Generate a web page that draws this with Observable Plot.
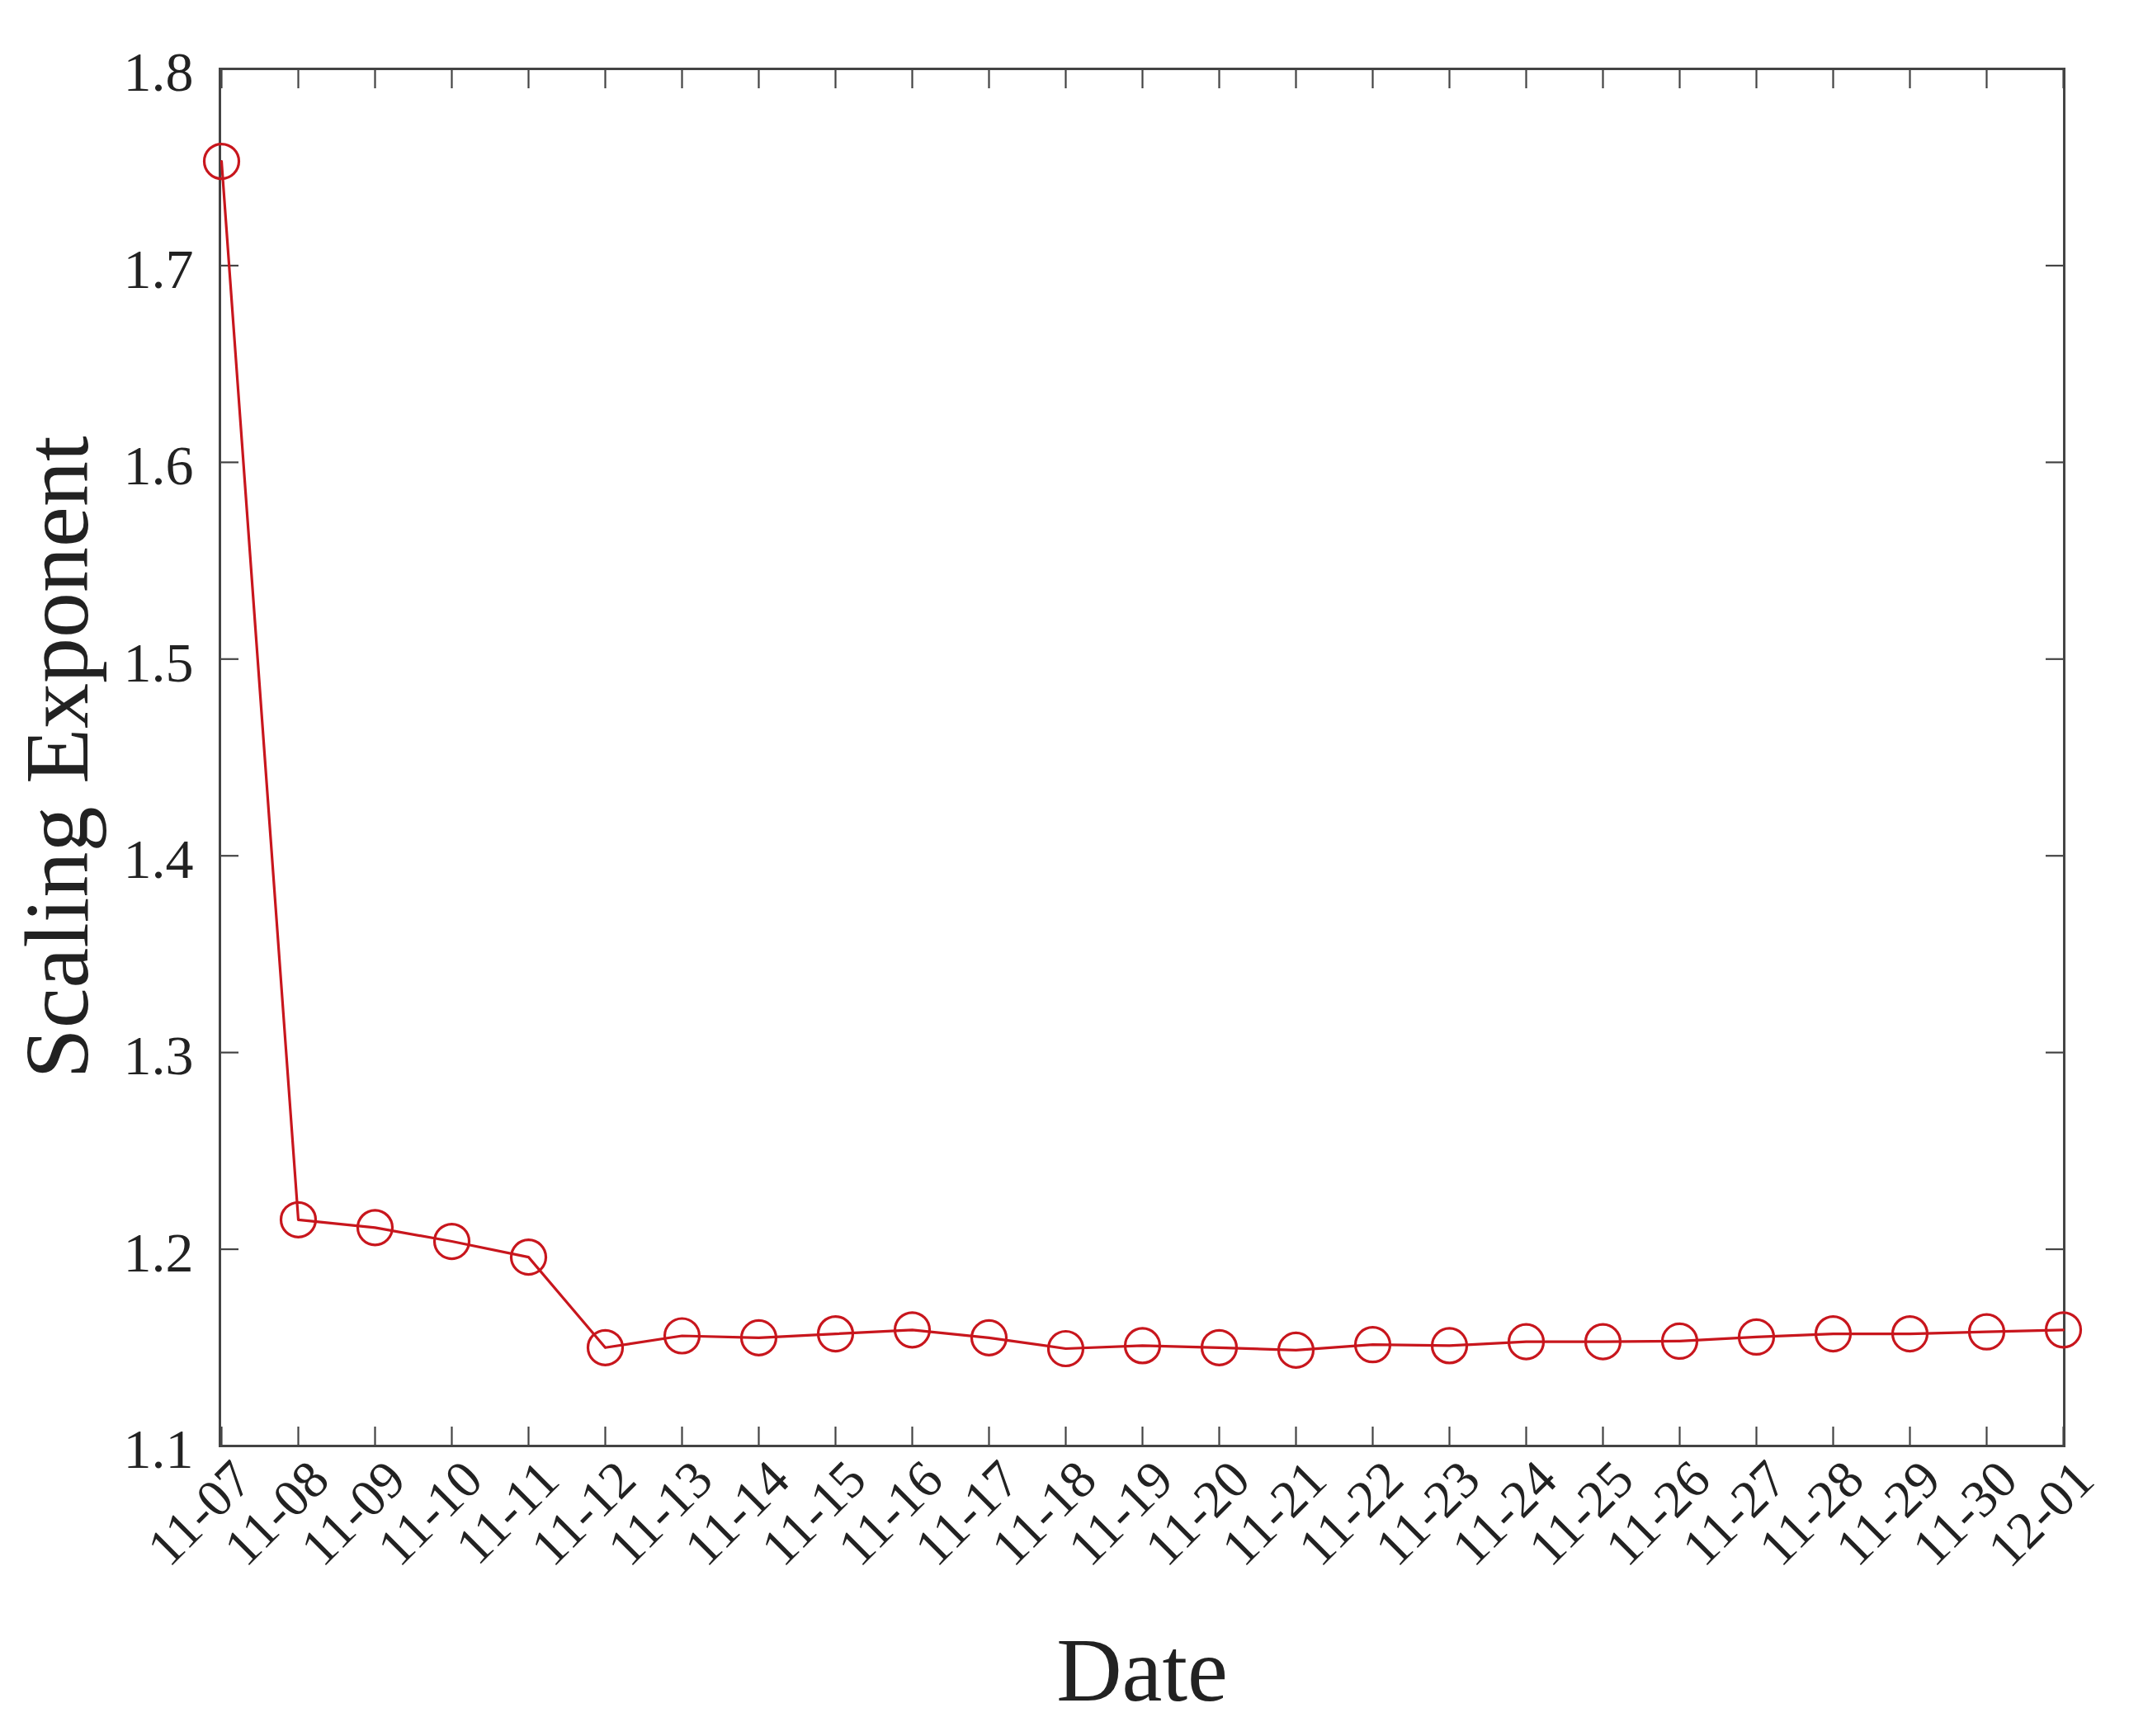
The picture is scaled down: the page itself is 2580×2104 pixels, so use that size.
<!DOCTYPE html>
<html>
<head>
<meta charset="utf-8">
<script src="https://cdn.jsdelivr.net/npm/d3@7"></script>
<script src="https://cdn.jsdelivr.net/npm/@observablehq/plot@0.6"></script>
<style>
  html, body { margin: 0; padding: 0; background: #ffffff; }
  #chart svg { display: block; }
</style>
</head>
<body>
<div id="chart"></div>
<script>
const dates = ["11-07","11-08","11-09","11-10","11-11","11-12","11-13","11-14","11-15","11-16","11-17","11-18","11-19","11-20","11-21","11-22","11-23","11-24","11-25","11-26","11-27","11-28","11-29","11-30","12-01"];
const scalingExponent = [1.753, 1.215, 1.211, 1.204, 1.196, 1.150, 1.156, 1.155, 1.157, 1.159, 1.155, 1.1495, 1.151, 1.150, 1.1487, 1.1515, 1.151, 1.153, 1.153, 1.1533, 1.1554, 1.157, 1.157, 1.158, 1.159];
const yTicks = [1.1, 1.2, 1.3, 1.4, 1.5, 1.6, 1.7, 1.8];
const xTitle = "Date";
const yTitle = "Scaling Exponent";

const data = dates.map((d, i) => ({date: d, value: scalingExponent[i]}));

const axisColor = "#444444";
const textColor = "#222222";
const lineColor = "#c8161d";
const font = "'Liberation Serif', 'Times New Roman', serif";

const chart = Plot.plot({
  width: 2580,
  height: 2104,
  marginLeft: 266,
  marginRight: 79,
  marginTop: 83,
  marginBottom: 352,
  style: {fontFamily: font, background: "#ffffff", color: textColor},
  x: {type: "point", domain: dates, padding: 0},
  y: {domain: [1.1, 1.8]},
  marks: [
    // inward ticks on all four sides
    Plot.axisY({anchor: "left", ticks: yTicks, tickSize: -23, fill: "none", label: null, stroke: axisColor, strokeWidth: 2.2}),
    Plot.axisY({anchor: "right", ticks: yTicks, tickSize: -23, fill: "none", label: null, stroke: axisColor, strokeWidth: 2.2}),
    Plot.axisX({anchor: "bottom", tickSize: -23, fill: "none", label: null, stroke: axisColor, strokeWidth: 2.2}),
    Plot.axisX({anchor: "top", tickSize: -23, fill: "none", label: null, stroke: axisColor, strokeWidth: 2.2}),
    // tick labels
    Plot.axisY({anchor: "left", ticks: yTicks, tickSize: 0, tickPadding: 32, tickFormat: d => d.toFixed(1), fontSize: 68, dy: 5, label: null, fill: textColor}),
    Plot.axisX({anchor: "bottom", tickSize: 0, tickPadding: 30, tickRotate: -45, dx: 26, fontSize: 64, label: null, fill: textColor}),
    Plot.frame({stroke: axisColor, strokeWidth: 3}),
    // data
    Plot.line(data, {x: "date", y: "value", stroke: lineColor, strokeWidth: 3.2}),
    Plot.dot(data, {x: "date", y: "value", r: 21, stroke: lineColor, strokeWidth: 3.2, fill: "none"}),
    // axis titles
    Plot.text([xTitle], {frameAnchor: "bottom", dy: 308, lineAnchor: "bottom", textAnchor: "middle", fontSize: 110, fill: textColor}),
    Plot.text([yTitle], {frameAnchor: "left", rotate: -90, dx: -161, lineAnchor: "bottom", textAnchor: "middle", fontSize: 110, fill: textColor})
  ]
});

document.getElementById("chart").appendChild(chart);
</script>
</body>
</html>
